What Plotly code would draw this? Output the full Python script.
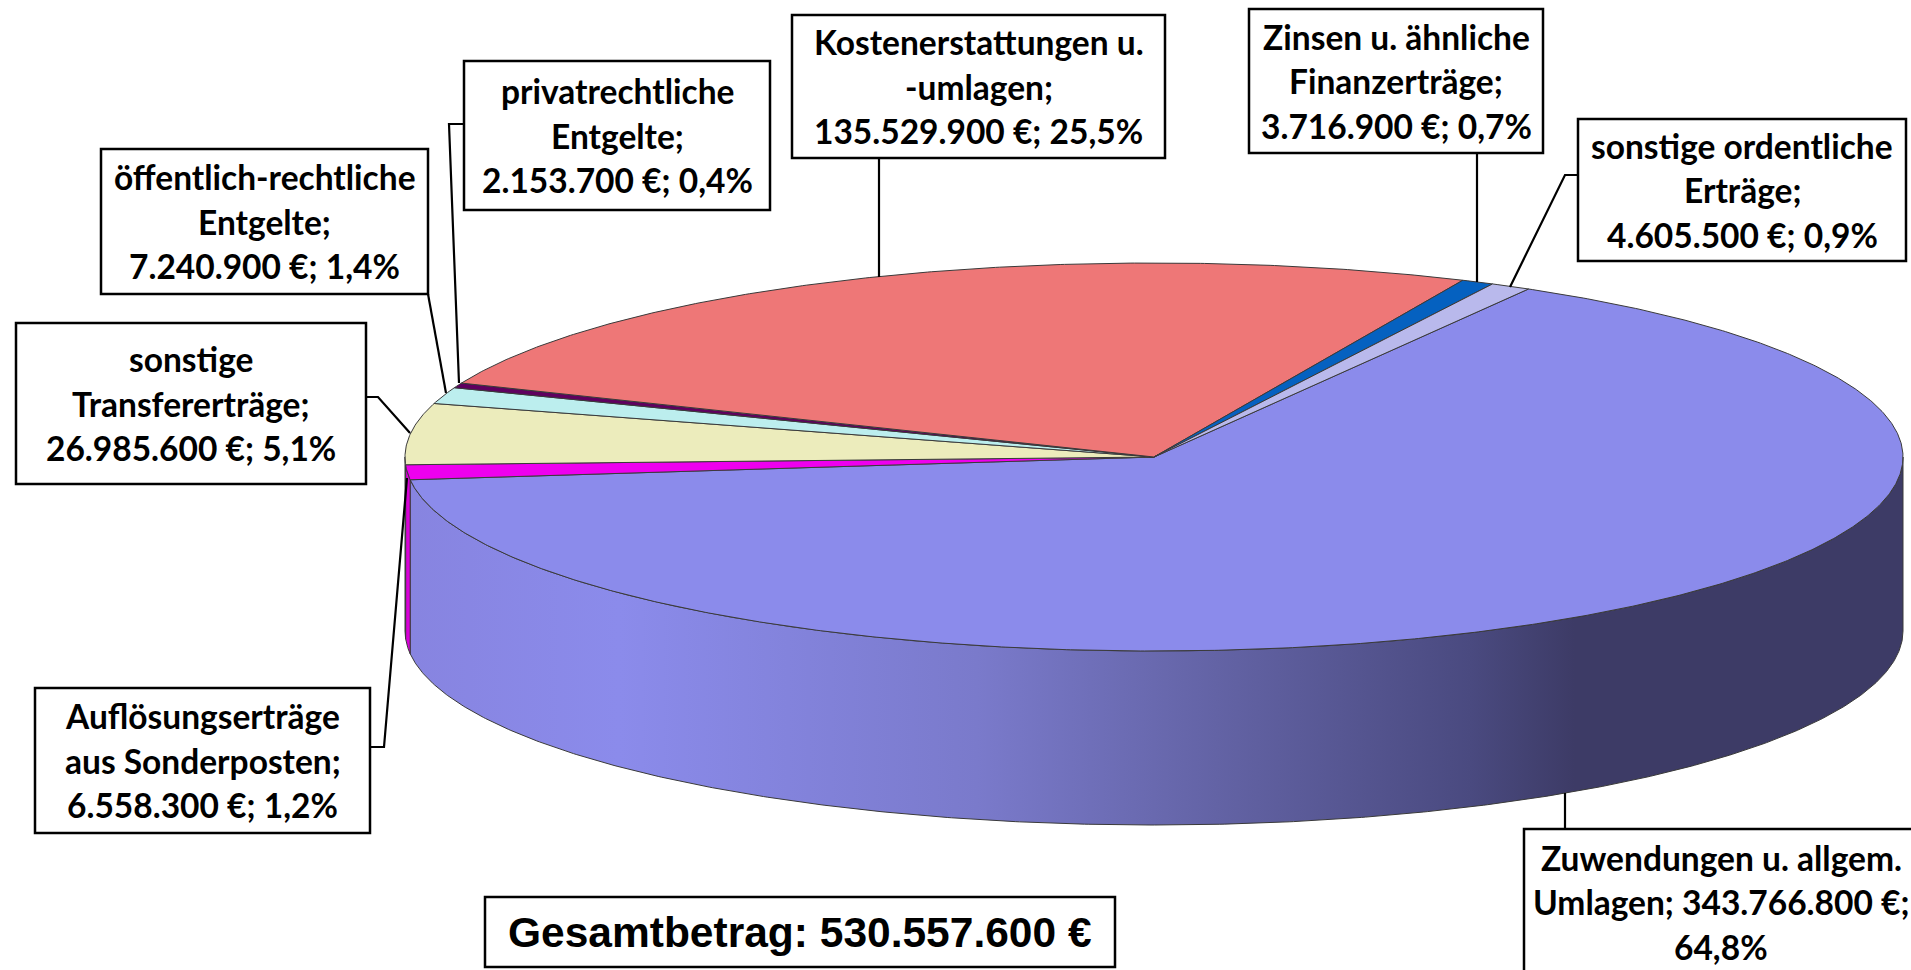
import numpy as np
import plotly.graph_objects as go

# ---- data (clockwise from the 30 degree start angle)
categories = ["Zuwendungen u. allgem. Umlagen", "Auflösungserträge aus Sonderposten",
              "sonstige Transfererträge", "öffentlich-rechtliche Entgelte",
              "privatrechtliche Entgelte", "Kostenerstattungen u. -umlagen",
              "Zinsen u. ähnliche Finanzerträge", "sonstige ordentliche Erträge"]
values = [343766800, 6558300, 26985600, 7240900, 2153700, 135529900, 3716900, 4605500]
top_colors = ["#8B8BEB", "#EE00EE", "#ECECBC", "#BCEEEE", "#5F005F", "#EE7777", "#0561C0", "#B9B9EC"]
wall_colors = [None, "#D800D8", "#B8B890", "#90B8B8", "#400040", "#B85C5C", "#044A90", "#8E8EB8"]
label_lines = [
    ["Zuwendungen u. allgem.", "Umlagen; 343.766.800 €;", "64,8%"],
    ["Auflösungserträge", "aus Sonderposten;", "6.558.300 €; 1,2%"],
    ["sonstige", "Transfererträge;", "26.985.600 €; 5,1%"],
    ["öffentlich-rechtliche", "Entgelte;", "7.240.900 €; 1,4%"],
    ["privatrechtliche", "Entgelte;", "2.153.700 €; 0,4%"],
    ["Kostenerstattungen u.", "-umlagen;", "135.529.900 €; 25,5%"],
    ["Zinsen u. ähnliche", "Finanzerträge;", "3.716.900 €; 0,7%"],
    ["sonstige ordentliche", "Erträge;", "4.605.500 €; 0,9%"],
]
total_label = "Gesamtbetrag: 530.557.600 €"

# ---- layout (page pixels)
W, H = 1911, 970
CX, CY, RX, RY, DEPTH = 1154, 457, 749, 194, 174
START = 30.0
boxes = [(1524, 829, 1925, 990), (35, 688, 370, 833), (16, 323, 366, 484), (101, 149, 428, 294),
         (464, 61, 770, 210), (792, 15, 1165, 158), (1249, 9, 1543, 153), (1578, 119, 1906, 261)]
text_mid = [902, 0, 0, 0, 0, 0, 0, 0]
leaders = [
    [(1565, 793), (1565, 829)],
    [(370, 747), (384, 747), (407, 478)],
    [(366, 397), (378, 397), (410, 433)],
    [(428, 294), (446, 393)],
    [(464, 124), (449, 124), (459, 383)],
    [(879, 158), (879, 277)],
    [(1477, 153), (1477, 282)],
    [(1578, 175), (1565, 175), (1510, 287)],
]
total_box = (485, 897, 1115, 967)
wall_gradient = [[0, "#8784E0"], [0.14, "#8B8BEB"], [0.38, "#7A7ACB"], [0.54, "#6363A5"],
                 [0.71, "#4A4A80"], [0.78, "#3D3B66"], [1, "#3D3B66"]]
EDGE = "#3A3A3A"
FONT = "Lato"
LINE_GAP = 44.5


def ex(t):
    return CX + RX * np.sin(np.radians(t))


def ey(t):
    return CY - RY * np.cos(np.radians(t))


shares = np.array(values) / sum(values) * 360
starts = START + np.concatenate([[0], np.cumsum(shares)[:-1]])
ends = starts + shares

fig = go.Figure()

# walls (front half of the cylinder only)
for s, e, wc, name in zip(starts, ends, wall_colors, categories):
    a, b = max(s, 90), min(e, 270)
    if a >= b:
        continue
    t = np.linspace(a, b, max(3, int((b - a) * 3)))
    xs = np.concatenate([ex(t), ex(t[::-1]), ex(t[:1])])
    ys = np.concatenate([ey(t), ey(t[::-1]) + DEPTH, ey(t[:1])])
    kw = dict(fillcolor=wc) if wc else dict(fillgradient=dict(type="horizontal", colorscale=wall_gradient))
    fig.add_trace(go.Scatter(x=xs, y=ys, mode="lines", fill="toself", name=name,
                             line=dict(color=EDGE, width=1), hoverinfo="skip", showlegend=False, **kw))

# top face
for s, e, c, name, v in zip(starts, ends, top_colors, categories, values):
    t = np.linspace(s, e, max(3, int((e - s) * 3)))
    xs = np.concatenate([[CX], ex(t), [CX]])
    ys = np.concatenate([[CY], ey(t), [CY]])
    fig.add_trace(go.Scatter(x=xs, y=ys, mode="lines", fill="toself", fillcolor=c, name=name,
                             line=dict(color=EDGE, width=1), hoverinfo="skip", showlegend=False))

# leader lines
for pts in leaders:
    fig.add_trace(go.Scatter(x=[p[0] for p in pts], y=[p[1] for p in pts], mode="lines",
                             line=dict(color="black", width=2.2), hoverinfo="skip", showlegend=False))

shapes, annotations = [], []
for box, lines, mid in zip(boxes, label_lines, text_mid):
    x0, y0, x1, y1 = box
    shapes.append(dict(type="rect", xref="x", yref="y", x0=x0, y0=y0, x1=x1, y1=y1,
                       fillcolor="white", line=dict(color="black", width=2.5), layer="above"))
    cy = mid or (y0 + y1) / 2
    cx = (x0 + x1) / 2
    if mid:
        cx = 1721
    for i, ln in enumerate(lines):
        annotations.append(dict(x=cx, y=cy + (i - 1) * LINE_GAP, xref="x", yref="y", text=ln,
                                showarrow=False, xanchor="center", yanchor="middle",
                                font=dict(family=FONT, size=33.5, color="black", weight="bold")))

x0, y0, x1, y1 = total_box
shapes.append(dict(type="rect", xref="x", yref="y", x0=x0, y0=y0, x1=x1, y1=y1,
                   fillcolor="white", line=dict(color="black", width=2.5), layer="above"))
annotations.append(dict(x=(x0 + x1) / 2, y=(y0 + y1) / 2, xref="x", yref="y", text=total_label,
                        showarrow=False, xanchor="center", yanchor="middle",
                        font=dict(family="Liberation Sans", size=42.5, color="black", weight="bold")))

fig.update_layout(
    width=W, height=H, autosize=False, margin=dict(l=0, r=0, t=0, b=0),
    paper_bgcolor="white", plot_bgcolor="white", showlegend=False,
    xaxis=dict(range=[0, W], visible=False, fixedrange=True),
    yaxis=dict(range=[H, 0], visible=False, fixedrange=True),
    shapes=shapes, annotations=annotations,
)
fig.write_html("out.html", config=dict(displayModeBar=False),
               post_script="document.body.style.margin='0';document.body.style.overflow='hidden';")
